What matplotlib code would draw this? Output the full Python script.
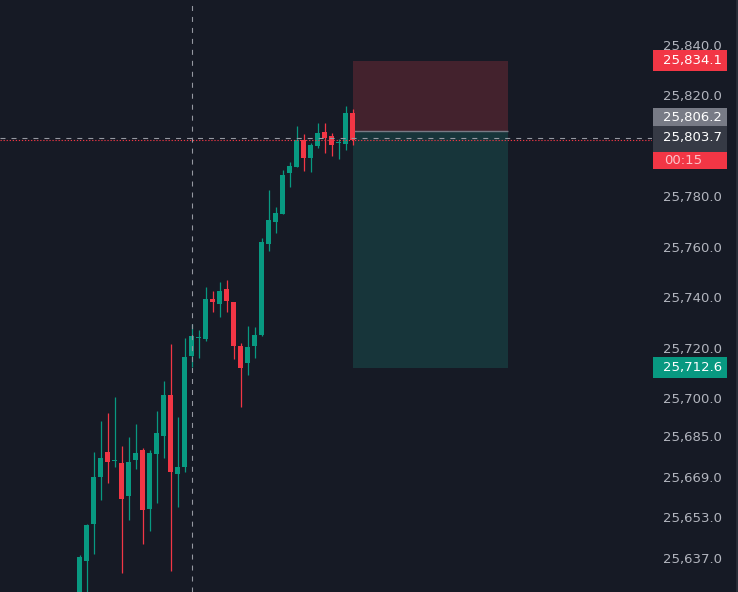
import matplotlib
matplotlib.use("Agg")
import matplotlib.pyplot as plt
from matplotlib.patches import Rectangle
from matplotlib import transforms

plt.rcParams['lines.scale_dashes'] = False

# candles (one bar per index)
opens = [25620.8, 25636.3, 25651.0, 25669.6, 25679.4, 25675.7, 25675.0, 25662.1, 25676.3, 25680.1,
         25656.9, 25678.7, 25685.8, 25701.9, 25670.8, 25673.5, 25717.5, 25724.6, 25724.2, 25739.9,
         25738.0, 25743.9, 25738.7, 25721.3, 25714.7, 25721.4, 25725.7, 25761.7, 25770.4, 25773.5,
         25789.8, 25792.1, 25802.8, 25795.7, 25800.5, 25806.0, 25804.4, 25801.5, 25801.3, 25813.5]
highs = [25638.5, 25650.9, 25679.4, 25691.6, 25694.8, 25701.1, 25681.7, 25685.3, 25690.4, 25680.9,
         25680.1, 25695.6, 25707.5, 25722.1, 25693.2, 25724.5, 25730.0, 25727.6, 25744.7, 25743.1,
         25746.6, 25747.4, 25738.8, 25722.5, 25729.2, 25728.8, 25764.0, 25783.0, 25776.3, 25791.0,
         25794.1, 25808.4, 25805.2, 25801.6, 25809.6, 25809.6, 25805.6, 25803.2, 25816.3, 25815.1]
lows = [25616.8, 25621.0, 25639.1, 25660.5, 25667.2, 25673.5, 25631.6, 25652.6, 25672.7, 25643.1,
        25648.2, 25659.3, 25677.1, 25632.4, 25657.7, 25671.6, 25713.1, 25716.7, 25723.4, 25734.9,
        25732.9, 25734.9, 25716.3, 25697.3, 25709.9, 25716.7, 25725.3, 25758.9, 25766.0, 25773.4,
        25784.2, 25792.0, 25790.6, 25790.2, 25799.7, 25797.7, 25796.5, 25795.3, 25798.9, 25800.9]
closes = [25637.8, 25650.5, 25669.5, 25677.0, 25675.5, 25675.9, 25660.9, 25675.4, 25679.0, 25656.5,
          25679.0, 25686.9, 25701.9, 25671.6, 25673.4, 25717.0, 25725.3, 25724.8, 25739.9, 25738.8,
          25743.1, 25739.2, 25721.4, 25712.7, 25720.9, 25725.7, 25762.5, 25771.2, 25773.9, 25789.0,
          25792.5, 25802.8, 25795.7, 25800.9, 25805.6, 25803.6, 25800.9, 25801.7, 25813.5, 25802.8]

# price axis ticks (25,800 sits under the price tags, so it is left out)
tick_values = [25840, 25820, 25780, 25760, 25740, 25720, 25700, 25685, 25669, 25653, 25637]

# short position tool
entry_price = 25806.2
stop_price = 25834.1
target_price = 25712.6
pos_start, pos_end = 39, 61.2

last_price = 25802.8
last_label = "25,803.7"
countdown = "00:15"
crosshair_bar = 16
crosshair_price = 25803.6

BG = '#161a25'
UP = '#089981'
DOWN = '#f23645'
TXT = '#b2b5be'

W, H = 738, 592
fig = plt.figure(figsize=(W / 100, H / 100), dpi=100, facecolor=BG)
ax = fig.add_axes([0, 0, 652 / W, 1])
ax.set_facecolor(BG)

ymin, ymax = 25623.94, 25858.24
ax.set_ylim(ymin, ymax)
ax.set_xlim(-11.39, 81.76)
ppu = H / (ymax - ymin)  # pixels per price unit

# position boxes
ax.add_patch(Rectangle((pos_start, entry_price), pos_end - pos_start, stop_price - entry_price,
                       facecolor='#43222d', edgecolor='none', zorder=1))
ax.add_patch(Rectangle((pos_start, target_price), pos_end - pos_start, entry_price - target_price,
                       facecolor='#17353a', edgecolor='none', zorder=1))
ax.hlines(entry_price, pos_start, pos_end, colors='#787b86', linewidth=1.0, zorder=1.5)

# candles
x = list(range(len(opens)))
colors = [UP if c >= o else DOWN for o, c in zip(opens, closes)]
ax.vlines(x, lows, highs, colors=colors, linewidth=0.9, zorder=2)
bottoms = [min(o, c) for o, c in zip(opens, closes)]
heights = [max(abs(c - o), 1.0 / ppu) for o, c in zip(opens, closes)]
ax.bar(x, heights, bottom=bottoms, width=0.71, color=colors, linewidth=0, zorder=3)

# crosshair and last price line
ax.axvline(crosshair_bar, color='#9598a1', linewidth=0.8, linestyle=(0, (3.6, 4.3)), zorder=4)
ax.axhline(crosshair_price, color='#9598a1', linewidth=0.8, linestyle=(0, (3.6, 4.3)), zorder=4)
ax.axhline(last_price, color=DOWN, linewidth=0.8, linestyle=(0, (0.9, 1.3)), zorder=4)

# price axis
ax.yaxis.tick_right()
ax.set_yticks(tick_values)
ax.set_yticklabels([f"{v:,.1f}" for v in tick_values])
ax.tick_params(axis='y', length=0, pad=50.2, labelsize=9.5, labelcolor=TXT)
for lbl in ax.get_yticklabels():
    lbl.set_horizontalalignment('right')
    lbl.set_verticalalignment('center')
ax.set_xticks([])
for s in ax.spines.values():
    s.set_visible(False)

# price tags on the axis
tr = transforms.blended_transform_factory(ax.transAxes, ax.transData)
x0, x1 = 652.7 / 652, 727 / 652
xr = 721.7 / 652


def tag(center, h_px, bg, text=None, fg='white', text_price=None, ha='right'):
    h = h_px / ppu
    ax.add_patch(Rectangle((x0, center - h / 2), x1 - x0, h, transform=tr, facecolor=bg,
                           edgecolor='none', clip_on=False, zorder=6))
    if text:
        tx = xr if ha == 'right' else 664 / 652
        ax.text(tx, center if text_price is None else text_price, text, transform=tr, ha=ha,
                va='center', color=fg, fontsize=9.5, clip_on=False, zorder=7)


tag(stop_price, 21, DOWN, f"{stop_price:,.1f}")
tag(25811.9, 18, '#787b86', f"{entry_price:,.1f}")
tag(25803.2, 26, '#363a45', last_label, text_price=25803.7)
tag(25794.7, 17, DOWN, countdown, fg='#fbc3c9', ha='left')
tag(target_price, 21, UP, f"{target_price:,.1f}")

# right edge border
fig.add_artist(plt.Line2D([736.5 / W, 736.5 / W], [0, 1], color='#2a2e39', linewidth=2))

fig.savefig('out.png', dpi=100, facecolor=BG)
